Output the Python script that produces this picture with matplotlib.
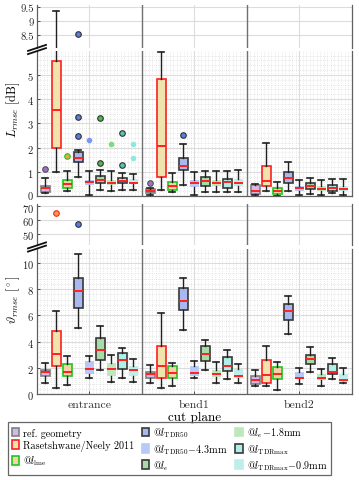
import matplotlib
matplotlib.use("Agg")
import matplotlib.pyplot as plt
from matplotlib.patches import Patch
from matplotlib.lines import Line2D
from matplotlib.transforms import ScaledTranslation
import numpy as np

plt.rcParams['font.family'] = ['cmr10', 'DejaVu Serif']
plt.rcParams['mathtext.fontset'] = 'cm'
plt.rcParams['axes.formatter.use_mathtext'] = True

groups = ['entrance', 'bend1', 'bend2']
series = ['ref. geometry', 'Rasetshwane/Neely 2011', r'@$l_{\rm lme}$', r'@$l_{\rm TDR50}$',
          r'@$l_{\rm TDR50}\!-\!$4.3mm', r'@$l_{e}$', r'@$l_{e}\!-\!$1.8mm',
          r'@$l_{\rm TDRmax}$', r'@$l_{\rm TDRmax}\!-\!$0.9mm']
face_colors = ['#d6b8e6', '#efe4ae', '#f5d3a6', '#a9b9ef', '#b9c9f7', '#a9dba9', '#bde8bd', '#b0eee6', '#bdeee9']
edge_colors = ['#808080', '#ff2020', '#1ec81e', '#383838', 'none', '#383838', 'none', '#383838', 'none']
flier_colors = ['#a070c8', '#f5a040', '#f5a040', '#5a7ee0', '#7a98f0', '#50b850', '#80d880', '#50c8b8', '#90e6e0']
flier_edges = ['#505050', '#ff2020', '#1ec81e', '#303030', 'none', '#303030', 'none', '#303030', 'none']

# L_rmse [dB]  rows: series, cols: entrance, bend1, bend2
L_med = [[0.32, 0.21, 0.20], [3.55, 2.05, 0.63], [0.48, 0.40, 0.19], [1.58, 1.25, 0.76], [0.57, 0.54, 0.32],
         [0.67, 0.61, 0.40], [0.54, 0.54, 0.28], [0.63, 0.57, 0.34], [0.54, 0.54, 0.29]]
L_q1 = [[0.18, 0.12, 0.08], [1.97, 0.77, 0.40], [0.34, 0.25, 0.08], [1.39, 1.07, 0.52], [0.45, 0.36, 0.22],
        [0.54, 0.40, 0.28], [0.45, 0.40, 0.20], [0.54, 0.32, 0.20], [0.50, 0.40, 0.20]]
L_q3 = [[0.43, 0.29, 0.45], [5.59, 4.83, 1.23], [0.65, 0.57, 0.33], [1.80, 1.56, 0.98], [0.67, 0.65, 0.43],
        [0.84, 0.77, 0.52], [0.67, 0.67, 0.40], [0.74, 0.70, 0.45], [0.70, 0.70, 0.41]]
L_lo = [[0.12, 0.04, 0.03], [0.98, 0.24, 0.22], [0.20, 0.15, 0.01], [0.77, 0.47, 0.19], [0.04, 0.05, 0.04],
        [0.24, 0.18, 0.08], [0.20, 0.18, 0.04], [0.24, 0.15, 0.11], [0.24, 0.18, 0.03]]
L_hi = [[0.73, 0.34, 0.50], [9.35, 5.94, 2.18], [1.02, 0.96, 0.57], [1.91, 2.13, 1.40], [1.02, 1.00, 0.67],
        [1.07, 1.02, 0.74], [1.02, 1.03, 0.65], [0.94, 1.05, 0.70], [0.90, 1.09, 0.72]]
L_fliers = [[[1.10], [0.52], []], [[], [], []], [[1.64], [], []], [[2.47, 3.26, 8.54], [2.52], []],
            [[2.33], [], []], [[1.35, 3.22], [], []], [[2.16], [], []], [[1.29, 2.60], [], []],
            [[1.58, 2.16], [], []]]

# theta_rmse [deg]
T_med = [[1.65, 1.50, 1.04], [3.08, 2.11, 1.45], [1.71, 1.60, 1.50], [7.86, 7.10, 6.34], [1.91, 1.60, 1.20],
         [3.38, 3.03, 2.67], [1.91, 1.50, 1.20], [2.62, 2.11, 1.71], [1.80, 1.40, 1.09]]
T_q1 = [[1.35, 1.20, 0.79], [2.16, 1.25, 0.84], [1.35, 1.20, 1.15], [6.54, 6.44, 5.67], [1.50, 1.40, 1.15],
        [2.62, 2.52, 2.27], [1.35, 1.30, 1.04], [1.91, 1.76, 1.55], [1.35, 1.25, 0.94]]
T_q3 = [[1.86, 1.65, 1.40], [4.81, 3.69, 2.57], [2.32, 2.11, 2.06], [8.88, 8.07, 6.90], [2.52, 2.16, 1.65],
        [4.25, 3.64, 2.98], [2.37, 1.80, 1.50], [3.13, 2.82, 2.32], [2.16, 1.91, 1.55]]
T_lo = [[0.84, 0.84, 0.64], [0.48, 0.48, 0.64], [0.69, 0.59, 0.28], [5.01, 4.91, 4.56], [1.25, 1.20, 0.79],
        [1.86, 1.80, 1.65], [0.89, 0.84, 0.64], [1.25, 1.15, 1.15], [0.89, 0.84, 0.84]]
T_hi = [[2.37, 2.21, 1.86], [6.34, 6.18, 3.69], [2.93, 2.37, 2.42], [10.70, 8.83, 7.46], [2.87, 2.52, 2.01],
        [5.22, 4.10, 3.59], [2.98, 2.42, 1.91], [3.49, 3.33, 2.77], [2.67, 2.32, 2.01]]
T_fliers = [[[], [], []], [[64.9], [], []], [[], [], []], [[57.0], [], []], [[], [], []],
            [[], [], []], [[], [], []], [[], [], []], [[], [], []]]

W, H = 359, 481
fig = plt.figure(figsize=(W / 100, H / 100), dpi=100)

def fr(x0, y0, x1, y1):
    return [x0 / W, 1 - y1 / H, (x1 - x0) / W, (y1 - y0) / H]

xl, xr = 36.7, 351.7
ax_Lu = fig.add_axes(fr(xl, 6, xr, 49))
ax_Ll = fig.add_axes(fr(xl, 52, xr, 197))
ax_Tu = fig.add_axes(fr(xl, 205, xr, 246))
ax_Tl = fig.add_axes(fr(xl, 250, xr, 395))

spacing = 0.105
bw = 0.086

def draw(ax, med, q1, q3, lo, hi, fl):
    for i in range(len(series)):
        stats = []
        pos = []
        for g in range(len(groups)):
            stats.append(dict(med=med[i][g], q1=q1[i][g], q3=q3[i][g], whislo=lo[i][g],
                              whishi=hi[i][g], fliers=fl[i][g]))
            pos.append(g + (i - 4) * spacing)
        ec = edge_colors[i]
        ax.bxp(stats, positions=pos, widths=bw, patch_artist=True, capwidths=0.055,
               boxprops=dict(facecolor=face_colors[i], edgecolor=ec, linewidth=1.2),
               medianprops=dict(color='#ff2020', linewidth=1.4),
               whiskerprops=dict(color='#202020', linewidth=1.0),
               capprops=dict(color='#202020', linewidth=1.2),
               flierprops=dict(marker='o', markersize=4, markerfacecolor=flier_colors[i],
                               markeredgecolor=flier_edges[i], markeredgewidth=0.8),
               manage_ticks=False, zorder=3)

draw(ax_Lu, L_med, L_q1, L_q3, L_lo, L_hi, L_fliers)
draw(ax_Ll, L_med, L_q1, L_q3, L_lo, L_hi, L_fliers)
draw(ax_Tu, T_med, T_q1, T_q3, T_lo, T_hi, T_fliers)
draw(ax_Tl, T_med, T_q1, T_q3, T_lo, T_hi, T_fliers)

ax_Lu.set_ylim(8.04, 9.57)
ax_Ll.set_ylim(0, 5.99)
ax_Tu.set_ylim(42.5, 71.2)
ax_Tl.set_ylim(0, 11.07)
ax_Lu.set_yticks([8.5, 9, 9.5])
ax_Lu.set_yticklabels(['8.5', '9', '9.5'])
ax_Ll.set_yticks([0, 1, 2, 3, 4, 5])
ax_Tu.set_yticks([50, 60, 70])
ax_Tl.set_yticks([0, 2, 4, 6, 8, 10])

for ax, upper in [(ax_Lu, True), (ax_Ll, False), (ax_Tu, True), (ax_Tl, False)]:
    ax.set_xlim(-0.5, 2.5)
    ax.set_xticks([0, 1, 2])
    ax.tick_params(axis='both', which='both', direction='in', length=2.5, width=0.6,
                   labelsize=7.6, colors='#333333', pad=2)
    ax.tick_params(axis='y', labelcolor='#222222')
    ax.grid(True, which='major', color='#dcdcdc', linewidth=0.8, zorder=0)
    for s in ['top', 'bottom', 'left', 'right']:
        ax.spines[s].set_color('#606060')
        ax.spines[s].set_linewidth(0.9)
    ax.spines['top'].set_visible(False)
    if upper:
        ax.spines['bottom'].set_visible(False)
        ax.tick_params(axis='x', which='both', bottom=False, labelbottom=False)
    else:
        ax.set_xticks(np.arange(-0.5, 2.5, 1 / 30.0), minor=True)
        ax.set_yticks(np.arange(0, ax.get_ylim()[1], 0.2 if ax is ax_Ll else 0.4), minor=True)
        ax.grid(True, which='minor', color='#d6d6d6', linestyle=(0, (1, 1.8)), linewidth=0.5, zorder=0)
        ax.tick_params(axis='both', which='minor', length=0)
    ax.set_axisbelow(True)
    for xs in [0.5, 1.5]:
        ax.axvline(xs, color='#707070', linewidth=1.0, zorder=1)

# small nudges so that "0" (top panel) and "70" (bottom panel) labels don't collide
lab0 = ax_Ll.yaxis.get_major_ticks()[0].label1
lab0.set_transform(lab0.get_transform() + ScaledTranslation(0, 2.0 / 100, fig.dpi_scale_trans))
lab70 = ax_Tu.yaxis.get_major_ticks()[2].label1
lab70.set_transform(lab70.get_transform() + ScaledTranslation(0, -1.5 / 100, fig.dpi_scale_trans))

ax_Ll.tick_params(axis='x', labelbottom=False)
ax_Tl.set_xticklabels(groups, fontsize=8.5)
ax_Tl.tick_params(axis='x', pad=4)
ax_Tl.set_xlabel('cut plane', fontsize=9.5, labelpad=1)

fig.text(13 / W, 1 - 110 / H, r'$L_{rmse}$ [dB]', rotation=90, ha='center', va='center', fontsize=9)
fig.text(13 / W, 1 - 300 / H, r'$\vartheta_{rmse}$ [$^\circ$]', rotation=90, ha='center', va='center', fontsize=9)

# break marks
for yb in [50.5, 248.0]:
    for dy in [-1.6, 1.6]:
        x0, x1 = 28, 46
        y0, y1 = yb + dy + 3, yb + dy - 3
        fig.add_artist(Line2D([x0 / W, x1 / W], [1 - y0 / H, 1 - y1 / H], color='#111111', linewidth=1.3))

handles = [Patch(facecolor=face_colors[i], edgecolor=(edge_colors[i] if edge_colors[i] != 'none' else face_colors[i]),
                 linewidth=1.2) for i in range(len(series))]
leg = fig.legend(handles, series, loc='upper left', bbox_to_anchor=(8 / W, 1 - 423 / H), ncol=3,
                 fontsize=7.3, frameon=True, fancybox=False, handlelength=0.75, handleheight=0.95,
                 handletextpad=0.4, columnspacing=0.7, labelspacing=0.25, borderpad=0.35, borderaxespad=0)
leg.get_frame().set_edgecolor('#404040')
leg.get_frame().set_linewidth(0.9)

fig.savefig('out.png', dpi=100)
